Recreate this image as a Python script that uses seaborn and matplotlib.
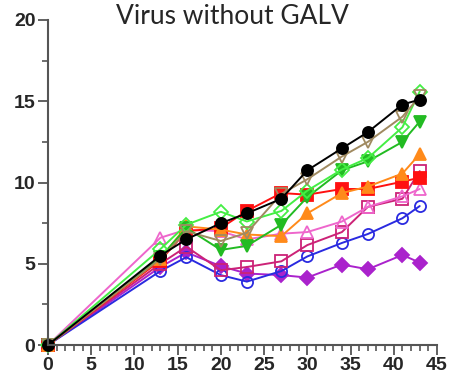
import matplotlib
matplotlib.use("Agg")
import matplotlib.pyplot as plt
import seaborn as sns
from matplotlib.ticker import MultipleLocator

days = [0, 13, 16, 20, 23, 27, 30, 34, 37, 41, 43]

black_circle = [0, 5.5, 6.5, 7.5, 8.1, 9.0, 10.75, 12.1, 13.1, 14.8, 15.1]
tan_down_tri = [0, 5.3, 7.0, 6.4, 6.9, 9.3, 10.2, 11.6, 12.5, 14.05, 15.3]
lime_diamond = [0, 5.9, 7.4, 8.2, 7.6, 8.25, 9.5, 10.8, 11.5, 13.4, 15.6]
green_down_tri = [0, 5.4, 7.2, 5.85, 6.1, 7.4, 9.1, 10.75, 11.3, 12.5, 13.75]
orange_up_tri = [0, 5.3, 7.3, 7.1, 6.8, 6.7, 8.1, 9.35, 9.75, 10.55, 11.75]
red_square = [0, 5.2, 7.0, 7.2, 8.25, 9.35, 9.25, 9.6, 9.6, 10.05, 10.3]
pink_up_tri = [0, 6.6, 7.1, 7.0, 6.5, 6.85, 6.95, 7.6, 8.5, 9.15, 9.6]
magenta_square = [0, 5.0, 6.05, 4.6, 4.8, 5.15, 6.15, 6.95, 8.5, 9.0, 10.7]
blue_circle = [0, 4.55, 5.4, 4.3, 3.9, 4.55, 5.45, 6.28, 6.83, 7.8, 8.55]
purple_diamond = [0, 4.8, 5.7, 4.85, 4.4, 4.3, 4.15, 4.95, 4.66, 5.54, 5.07]

title = "Virus without GALV"
x_ticks = [0, 5, 10, 15, 20, 25, 30, 35, 40, 45]
y_ticks = [0, 5, 10, 15, 20]

series = [
    (purple_diamond, "#aa22cc", "D", True),
    (blue_circle, "#2a2ae0", "o", False),
    (magenta_square, "#cc2277", "s", False),
    (pink_up_tri, "#ee66cc", "^", False),
    (red_square, "#ff1010", "s", True),
    (orange_up_tri, "#ff8a1a", "^", True),
    (green_down_tri, "#22bb22", "v", True),
    (lime_diamond, "#44ee44", "D", False),
    (tan_down_tri, "#a08a60", "v", False),
    (black_circle, "#000000", "o", True),
]

sns.set_style("white")
fig = plt.figure(figsize=(4.52, 3.90), dpi=100)
ax = fig.add_axes([48/452, 45/390, (437-48)/452, (345-20)/390])

for vals, col, mk, filled in series:
    ms = 8 if mk != "D" else 7
    sns.lineplot(x=days, y=vals, ax=ax, color=col, marker=mk, markersize=ms,
                 markerfacecolor=col if filled else "none",
                 markeredgecolor=col, markeredgewidth=1.3, linewidth=1.4,
                 clip_on=False, legend=False, errorbar=None)

ax.set_xlim(0, 45)
ax.set_ylim(0, 20)
ax.set_xticks(x_ticks)
ax.set_yticks(y_ticks)
ax.xaxis.set_minor_locator(MultipleLocator(1))
ax.yaxis.set_minor_locator(MultipleLocator(2.5))
for s in ["top", "right"]:
    ax.spines[s].set_visible(False)
for s in ["left", "bottom"]:
    ax.spines[s].set_color("#555555")
    ax.spines[s].set_linewidth(1.5)
ax.tick_params(axis="both", which="both", bottom=True, left=True, top=False, right=False)
ax.tick_params(axis="both", which="major", direction="out", length=7, width=1.3,
               color="#555555", labelsize=14, pad=2)
ax.tick_params(axis="both", which="minor", direction="out", length=4, width=1.2,
               color="#555555")
for lab in ax.get_xticklabels() + ax.get_yticklabels():
    lab.set_fontfamily(["Liberation Sans Narrow", "Liberation Sans", "DejaVu Sans"])
    lab.set_fontweight("bold")
ax.set_xlabel("")
ax.set_ylabel("")

fig.text(232/452, 1 - 17/390, title, ha="center", va="center", fontsize=19,
         family=["Lato", "DejaVu Sans"])

fig.savefig("out.png", dpi=100)
